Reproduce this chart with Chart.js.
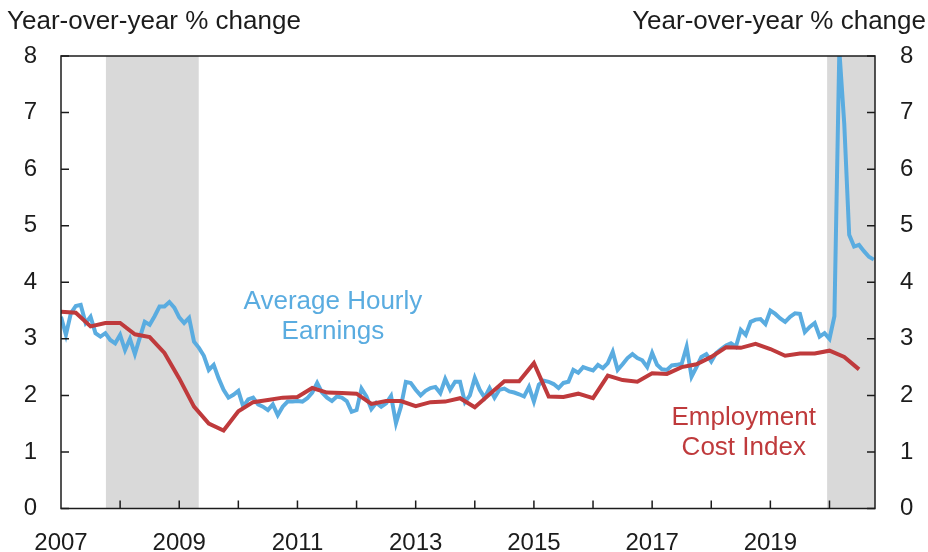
<!DOCTYPE html>
<html>
<head>
<meta charset="utf-8">
<script src="https://cdn.jsdelivr.net/npm/chart.js@4/dist/chart.umd.min.js"></script>
<style>
  html, body { margin: 0; padding: 0; background: #fff; }
  #wrap { width: 928px; height: 552px; }
</style>
</head>
<body>
<div id="wrap"><canvas id="wageChart" width="928" height="552"></canvas></div>
<script>
// Average Hourly Earnings, year-over-year % change, monthly Jan 2007 - Oct 2020
const aheStart = 2007;
const aheValues = [
  3.39, 3.07, 3.45, 3.58, 3.60, 3.28, 3.39, 3.10, 3.04, 3.10, 2.98, 2.92,
  3.07, 2.80, 3.00, 2.73, 3.02, 3.30, 3.25, 3.40, 3.57, 3.57, 3.65, 3.55,
  3.38, 3.28, 3.37, 2.95, 2.84, 2.70, 2.45, 2.54, 2.30, 2.10, 1.96, 2.01,
  2.08, 1.80, 1.93, 1.96, 1.84, 1.80, 1.74, 1.84, 1.65, 1.80, 1.89, 1.89,
  1.90, 1.89, 1.95, 2.05, 2.22, 2.05, 1.96, 1.90, 1.98, 1.96, 1.90, 1.71,
  1.74, 2.12, 1.98, 1.76, 1.87, 1.80, 1.86, 1.99, 1.51, 1.80, 2.24, 2.22,
  2.10, 2.00, 2.08, 2.13, 2.15, 2.04, 2.29, 2.10, 2.24, 2.24, 1.88, 2.00,
  2.31, 2.10, 1.96, 2.13, 1.96, 2.10, 2.12, 2.07, 2.05, 2.02, 1.98, 2.15,
  1.89, 2.19, 2.26, 2.24, 2.20, 2.13, 2.22, 2.24, 2.45, 2.40, 2.50, 2.47,
  2.44, 2.54, 2.48, 2.57, 2.77, 2.45, 2.55, 2.66, 2.73, 2.66, 2.62, 2.50,
  2.75, 2.54, 2.46, 2.45, 2.53, 2.54, 2.56, 2.86, 2.33, 2.50, 2.68, 2.73,
  2.60, 2.75, 2.82, 2.88, 2.92, 2.86, 3.16, 3.07, 3.30, 3.34, 3.35, 3.26,
  3.50, 3.44, 3.36, 3.30, 3.39, 3.45, 3.44, 3.12, 3.21, 3.28, 3.04, 3.10,
  3.00, 3.40, 8.10, 6.80, 4.84, 4.63, 4.66, 4.55, 4.45, 4.40
];

// Employment Cost Index, year-over-year % change, quarterly 2007Q1 - 2020Q3
const eciStart = 2007;
const eciValues = [
  3.48, 3.46, 3.22, 3.28, 3.28, 3.08, 3.03, 2.75, 2.30, 1.80, 1.50, 1.38,
  1.72, 1.88, 1.92, 1.96, 1.97, 2.13, 2.05, 2.04, 2.03, 1.85, 1.90, 1.90,
  1.81, 1.88, 1.89, 1.95, 1.79, 2.02, 2.25, 2.25, 2.57, 1.98, 1.97, 2.03,
  1.95, 2.35, 2.27, 2.24, 2.39, 2.38, 2.50, 2.55, 2.68, 2.85, 2.84, 2.91,
  2.82, 2.70, 2.74, 2.74, 2.79, 2.68, 2.46
];

// recession shading (decimal years)
const recessions = [[2007.76, 2009.33], [2019.96, 2020.77]];

const yTicks = [0, 1, 2, 3, 4, 5, 6, 7, 8];
const xMin = 2007, xMax = 2020.77;

const blue = '#5aacE0';
const red = '#bf3a3c';
const ink = '#1c1c1c';
const fontFam = '"Liberation Sans", Arial, Helvetica, sans-serif';

const aheData = aheValues.map((v, i) => ({ x: aheStart + i / 12, y: v }));
const eciData = eciValues.map((v, i) => ({ x: eciStart + i / 4, y: v }));

const framePlugin = {
  id: 'frame',
  beforeDatasetsDraw(chart) {
    const { ctx, chartArea: a, scales } = chart;
    ctx.save();
    ctx.fillStyle = '#d9d9d9';
    recessions.forEach(r => {
      const x0 = Math.max(scales.x.getPixelForValue(r[0]), a.left);
      const x1 = Math.min(scales.x.getPixelForValue(r[1]), a.right);
      ctx.fillRect(x0, a.top, x1 - x0, a.bottom - a.top);
    });
    ctx.restore();
  },
  afterDatasetsDraw(chart) {
    const { ctx, chartArea: a, scales } = chart;
    ctx.save();
    ctx.strokeStyle = ink;
    ctx.lineWidth = 1.5;
    ctx.strokeRect(a.left, a.top, a.right - a.left, a.bottom - a.top);
    ctx.beginPath();
    yTicks.forEach(v => {
      const y = scales.y.getPixelForValue(v);
      ctx.moveTo(a.left, y); ctx.lineTo(a.left + 8, y);
      ctx.moveTo(a.right, y); ctx.lineTo(a.right - 8, y);
    });
    for (let yr = 2008; yr <= 2020; yr++) {
      const x = scales.x.getPixelForValue(yr);
      ctx.moveTo(x, a.bottom); ctx.lineTo(x, a.bottom - 8);
    }
    ctx.stroke();

    // axis titles
    ctx.fillStyle = ink;
    ctx.font = '26px ' + fontFam;
    ctx.textBaseline = 'alphabetic';
    ctx.textAlign = 'left';
    ctx.fillText('Year-over-year % change', 7, 29);
    ctx.textAlign = 'right';
    ctx.fillText('Year-over-year % change', 926, 29);

    // series labels
    ctx.textAlign = 'center';
    ctx.fillStyle = blue;
    let lx = scales.x.getPixelForValue(2011.6);
    ctx.fillText('Average Hourly', lx, scales.y.getPixelForValue(3.53));
    ctx.fillText('Earnings', lx, scales.y.getPixelForValue(3.0));
    ctx.fillStyle = red;
    lx = scales.x.getPixelForValue(2018.55);
    ctx.fillText('Employment', lx, scales.y.getPixelForValue(1.47));
    ctx.fillText('Cost Index', lx, scales.y.getPixelForValue(0.95));
    ctx.restore();
  }
};

const ctx = document.getElementById('wageChart').getContext('2d');

const wageChart = new Chart(ctx, {
  type: 'line',
  data: {
    datasets: [
      {
        label: 'Employment Cost Index',
        data: eciData,
        borderColor: red,
        borderWidth: 4,
        pointRadius: 0,
        tension: 0,
        yAxisID: 'y'
      },
      {
        label: 'Average Hourly Earnings',
        data: aheData,
        borderColor: blue,
        borderWidth: 4,
        pointRadius: 0,
        tension: 0,
        yAxisID: 'y'
      }
    ]
  },
  options: {
    responsive: false,
    animation: false,
    layout: { padding: { top: 56, left: 0, right: 0, bottom: 0 } },
    plugins: { legend: { display: false }, tooltip: { enabled: false } },
    scales: {
      x: {
        type: 'linear',
        min: xMin,
        max: xMax,
        grid: { display: false, drawTicks: false },
        border: { display: false },
        ticks: {
          stepSize: 1,
          autoSkip: false,
          maxRotation: 0,
          padding: 20,
          color: ink,
          font: { family: fontFam, size: 24 },
          callback: v => (Number.isInteger(v) && v % 2 === 1) ? String(v) : ''
        },
        afterFit: s => { s.height = 43.5; }
      },
      y: {
        position: 'left',
        min: 0,
        max: 8,
        grid: { display: false, drawTicks: false },
        border: { display: false },
        ticks: { stepSize: 1, padding: 24, color: ink, font: { family: fontFam, size: 24 } },
        afterFit: s => { s.width = 61; }
      },
      y2: {
        position: 'right',
        min: 0,
        max: 8,
        grid: { display: false, drawTicks: false },
        border: { display: false },
        ticks: { stepSize: 1, padding: 25, color: ink, font: { family: fontFam, size: 24 } },
        afterFit: s => { s.width = 53; }
      }
    }
  },
  plugins: [framePlugin]
});
</script>
</body>
</html>
